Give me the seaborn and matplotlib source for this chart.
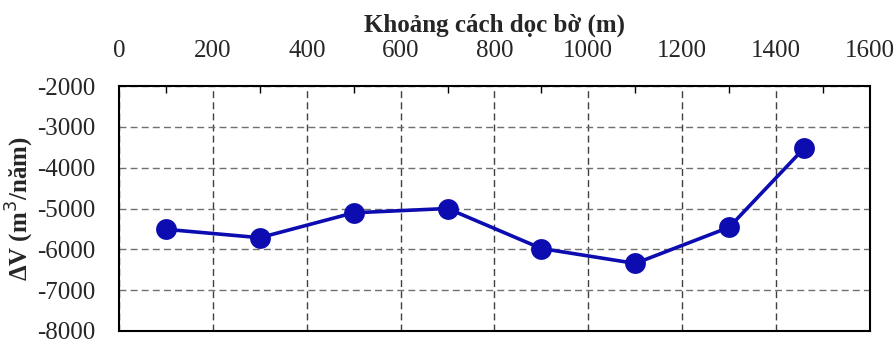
import numpy as np
import pandas as pd
import seaborn as sns
import matplotlib.pyplot as plt

# Data
distance = [100, 300, 500, 700, 900, 1100, 1300, 1460]
delta_v = [-5510, -5715, -5105, -5000, -5980, -6345, -5460, -3520]

x_ticks = [0, 200, 400, 600, 800, 1000, 1200, 1400, 1600]
y_ticks = [-8000, -7000, -6000, -5000, -4000, -3000, -2000]

df = pd.DataFrame({'Distance': distance, 'dV': delta_v})

sns.set_style('white')
plt.rcParams['font.family'] = ['Liberation Serif', 'DejaVu Serif']
plt.rcParams['axes.unicode_minus'] = False

fig = plt.figure(figsize=(8.95, 3.4), dpi=100)
ax = fig.add_axes([0.133, 0.0265, 0.839, 0.7205])

sns.lineplot(x='Distance', y='dV', data=df, ax=ax, color='#0c0cb0',
             linewidth=2.6, marker='o', markersize=15, markeredgewidth=0,
             zorder=3)

ax.set_xlim(0, 1600)
ax.set_ylim(-8000, -2000)
ax.set_xticks(x_ticks)
ax.set_yticks(y_ticks)
ax.set_xticks(np.arange(100, 1600, 200), minor=True)

ax.xaxis.tick_top()
ax.xaxis.set_label_position('top')
ax.tick_params(axis='x', which='major', length=0, pad=17, labelsize=18)
ax.tick_params(axis='x', which='minor', direction='in', length=5, width=1, color='black', top=True)
ax.tick_params(axis='y', length=0, pad=17, labelsize=18)

# grey dashed grid, horizontal lighter than vertical as in the source
ax.yaxis.grid(True, color='#707070', linestyle=(0, (5, 3)), linewidth=1)
ax.xaxis.grid(True, color='#404040', linestyle=(0, (5, 3)), linewidth=1)

for s in ax.spines.values():
    s.set_color('black')
    s.set_linewidth(1.5)
    s.set_visible(True)

ax.set_xlabel('Khoảng cách dọc bờ (m)', fontsize=18, fontweight='bold', labelpad=6)
ax.set_ylabel('ΔV (m$^3$/năm)', fontsize=18, fontweight='bold', labelpad=1)

plt.savefig('out.png', dpi=100)
